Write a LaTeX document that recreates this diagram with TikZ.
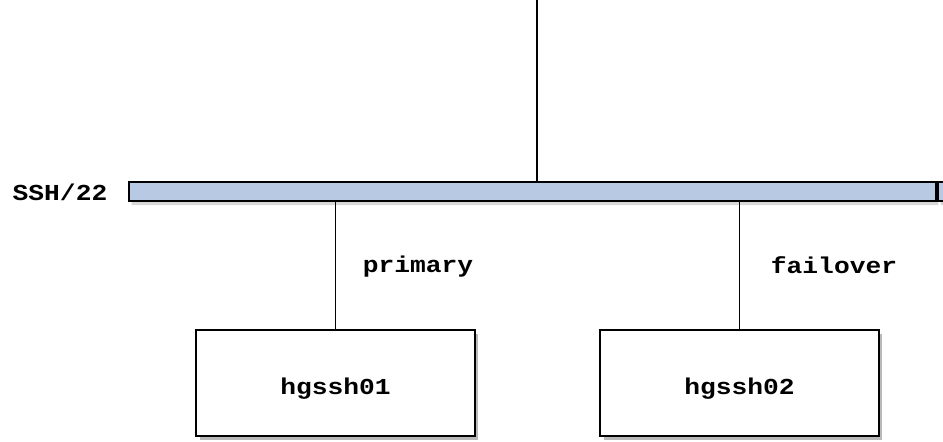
\documentclass[tikz,border=0pt]{standalone}
\usepackage{fontspec}
\newfontfamily\ditaafont[FakeStretch=1.15]{Liberation Mono}
\usepackage{tikz}
\usetikzlibrary{shapes.misc,shadows}
\definecolor{barblue}{RGB}{183,201,227}
\tikzset{
  txt/.style = {inner sep=0pt, font=\ditaafont\bfseries\fontsize{13}{13}\selectfont},
  host/.style = {txt, rectangle, draw=black, line width=1.1pt, fill=white,
    minimum width=5.58cm, minimum height=2.12cm, text height=0.56cm,
    drop shadow={shadow xshift=0.07cm, shadow yshift=-0.07cm, fill=black!55}},% serveur
  netbar/.style = {chamfered rectangle, chamfered rectangle xsep=2.5pt,
    chamfered rectangle ysep=2.5pt, draw=black, line width=1pt, fill=barblue,
    minimum height=0.38cm, inner sep=0pt,
    drop shadow={shadow xshift=0.05cm, shadow yshift=-0.08cm, fill=black!30}},% bus
  wire/.style = {draw=black, line width=1pt}
}

\begin{document}
\begin{tikzpicture}[x=0.02cm,y=-0.02cm]
\useasboundingbox (0,0) rectangle (943,441);
\clip (0,0) rectangle (943,441);
% bus ssh
\node [netbar, minimum width=16.14cm] (bus) at (532.5,191.5) {};
\node [netbar, minimum width=0.44cm] (busend) at (949,191.5) {};
\node [txt] (port) at (60,192) {SSH/22};
% machines
\node [host] (h1) at (335.5,383) {hgssh01};
\node [host] (h2) at (739.5,383) {hgssh02};
\coordinate (top) at (537,0);
\draw [wire] (top) -- (top |- bus.north);
\draw [wire] (h1.north) -- (h1.north |- bus.south);
\draw [wire] (h2.north) -- (h2.north |- bus.south);
\node [txt] (prim) at (418,267) {primary};
\node [txt] (fail) at (834,265) {failover};
\end{tikzpicture}
\end{document}
